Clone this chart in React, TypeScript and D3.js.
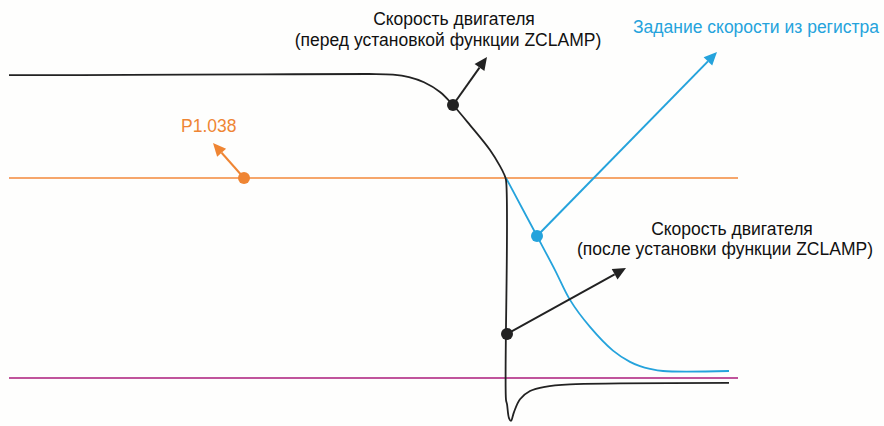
import React from "react";
import * as d3 from "d3";

// time (ms) and speed (%) samples
const motorT = [0, 120, 250, 360, 384, 400, 415, 431, 444, 461, 481, 491, 495, 497, 497, 498, 500, 502, 505, 511, 521, 536, 561, 611, 720];
const motorV = [99.6, 99.7, 99.85, 100, 99.8, 99.0, 97.3, 94.1, 89.8, 83.2, 75.0, 69.7, 67.1, 65.1, -7.2, -8.6, -13.2, -14.1, -11.2, -7.0, -4.3, -2.9, -2.1, -1.8, -1.6];

const refT = [497, 528, 546, 561, 581, 604, 621, 631, 641, 654, 720];
const refV = [65.8, 46.7, 35.5, 25.7, 16.8, 9.0, 5.3, 3.9, 3.0, 2.3, 2.3];

const p1038Level = 65.8;
const zeroLevel = 0;
const levelT = [0, 729];

const annoLabels = ["P1.038", "Задание скорости из регистра"];
const beforeLabel = ["Скорость двигателя", "(перед установкой функции ZCLAMP)"];
const afterLabel = ["Скорость двигателя", "(после установки функции ZCLAMP)"];

// annotation anchor (dot) and arrow-tip points, in data units
const dotT = [235, 528, 444, 498];
const dotV = [65.8, 46.7, 89.8, 14.5];
const tipT = [204, 708, 478, 617];
const tipV = [77.3, 107.2, 105.6, 36.2];

const W = 884;
const H = 426;

const BLACK = "#222222";
const ORANGE_LINE = "#f6a66b";
const ORANGE = "#ef8533";
const BLUE = "#25a3dc";
const MAGENTA = "#c0549c";

export default function App() {
  const x = d3.scaleLinear().domain([0, 729]).range([9, 738]);
  const y = d3.scaleLinear().domain([0, 100]).range([378, 74]);

  const line = d3
    .line<[number, number]>()
    .x((d) => x(d[0]))
    .y((d) => y(d[1]))
    .curve(d3.curveCatmullRom.alpha(0.5));

  const motor = motorT.map((t, i) => [t, motorV[i]] as [number, number]);
  const ref = refT.map((t, i) => [t, refV[i]] as [number, number]);

  const colors = [ORANGE, BLUE, BLACK, BLACK];

  const arrow = (i: number) => {
    const x0 = x(dotT[i]);
    const y0 = y(dotV[i]);
    const x1 = x(tipT[i]);
    const y1 = y(tipV[i]);
    const ang = Math.atan2(y1 - y0, x1 - x0);
    const L = 13;
    const Wd = 6;
    const bx = x1 - L * Math.cos(ang);
    const by = y1 - L * Math.sin(ang);
    const px = -Math.sin(ang) * Wd;
    const py = Math.cos(ang) * Wd;
    const c = colors[i];
    return (
      <g key={"a" + i}>
        <line x1={x0} y1={y0} x2={bx} y2={by} stroke={c} strokeWidth={2} />
        <path d={`M${x1},${y1}L${bx + px},${by + py}L${bx - px},${by - py}Z`} fill={c} />
        <circle cx={x0} cy={y0} r={6} fill={c} />
      </g>
    );
  };

  const font = "'Liberation Sans', Arial, sans-serif";
  const fs = 17.5;

  return (
    <svg width={W} height={H} style={{ position: "absolute", left: 0, top: 0 }} fontFamily={font}>
      <rect width={W} height={H} fill="#fefefd" />
      <line x1={x(levelT[0])} x2={x(levelT[1])} y1={y(p1038Level)} y2={y(p1038Level)} stroke={ORANGE_LINE} strokeWidth={2} />
      <line x1={x(levelT[0])} x2={x(levelT[1])} y1={y(zeroLevel)} y2={y(zeroLevel)} stroke={MAGENTA} strokeWidth={2} />
      <path d={line(ref) || ""} fill="none" stroke={BLUE} strokeWidth={1.8} />
      <path d={line(motor) || ""} fill="none" stroke={BLACK} strokeWidth={1.8} />
      {[0, 1, 2, 3].map((i) => arrow(i))}
      <text x={181} y={132} fontSize={fs} fill={ORANGE}>{annoLabels[0]}</text>
      <text x={633} y={33} fontSize={fs} fill={BLUE}>{annoLabels[1]}</text>
      <text x={454} y={25} fontSize={fs} fill="#111" textAnchor="middle">{beforeLabel[0]}</text>
      <text x={448} y={46} fontSize={fs} fill="#111" textAnchor="middle">{beforeLabel[1]}</text>
      <text x={732} y={235} fontSize={fs} fill="#111" textAnchor="middle">{afterLabel[0]}</text>
      <text x={725} y={255} fontSize={fs} fill="#111" textAnchor="middle">{afterLabel[1]}</text>
    </svg>
  );
}
